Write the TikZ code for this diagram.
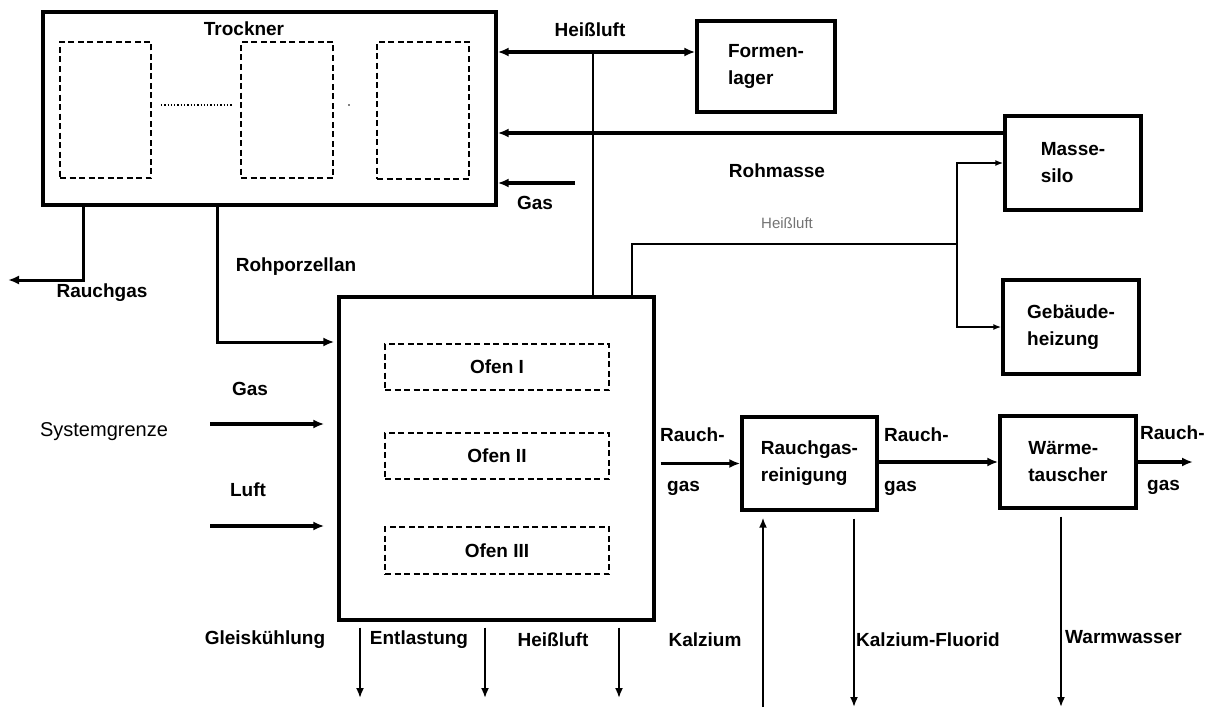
\documentclass[tikz,border=0pt]{standalone}
\usepackage{fontspec}
\setmainfont{Liberation Sans}
\usetikzlibrary{arrows.meta, positioning}

\newcommand{\lblfont}{\fontsize{19}{27}\selectfont\bfseries}

\begin{document}
\begin{tikzpicture}[
    x=1pt, y=-1pt,
    unit/.style={draw, line width=3.4pt, align=left, font=\lblfont, inner sep=0pt},
    chamber/.style={draw, line width=1.8pt, dash pattern=on 6pt off 3.5pt, font=\lblfont, inner sep=0pt},
    flow/.style={line width=3.4pt, -{Latex[length=11pt,width=9pt]}},
    pipe/.style={line width=1.8pt, -{Latex[length=10pt,width=8pt]}},
    lbl/.style={font=\lblfont, inner sep=0pt}
]
\useasboundingbox (0,0) rectangle (1217,709);

% Trockner with its chambers
\node (trockner) [unit, minimum width=453pt, minimum height=193pt] at (269.5,108.5) {};
\node (ttitle) [lbl] at (244,29) {Trockner};
\node (kammer1) [chamber, minimum width=91pt, minimum height=136pt] at (105.5,110) {};
\node (kammer2) [chamber, minimum width=92pt, minimum height=136pt] at (287,110) {};
\node (kammer3) [chamber, minimum width=92pt, minimum height=137pt] at (423,110.5) {};
\draw [line width=1.3pt, dotted] ([xshift=9pt,yshift=5pt]kammer1.east) -- ([xshift=-8pt,yshift=5pt]kammer2.west);
\fill (349,105) circle (0.9pt);

% Ofen with the three kilns
\node (ofen) [unit, minimum width=315pt, minimum height=323pt] at (496.5,458.5) {};
\node (ofen1) [chamber, minimum width=224pt, minimum height=46pt] at (497,367) {Ofen I};
\node (ofen2) [chamber, minimum width=224pt, minimum height=46pt] at (497,456) {Ofen II};
\node (ofen3) [chamber, minimum width=224pt, minimum height=47pt] at (497,550.5) {Ofen III};

% Other units
\node (formen) [unit, minimum width=138pt, minimum height=91pt] at (766,66.5) {Formen-\\lager};
\node (masse) [unit, minimum width=136pt, minimum height=94pt] at (1073,163) {Masse-\\silo};
\node (heizung) [unit, minimum width=136pt, minimum height=94pt] at (1071,327) {Gebäude-\\heizung};
\node (reinigung) [unit, minimum width=135pt, minimum height=93pt] at (809.5,463.5) {Rauchgas-\\reinigung};
\node (tauscher) [unit, minimum width=136pt, minimum height=92pt] at (1068,462) {Wärme-\\tauscher};

% Free ends
\coordinate (verzweig) at (593,52);
\coordinate (gasein) at (575,183);
\coordinate (rauchaus) at (8,280);
\coordinate (gasin) at (210,424);
\coordinate (luftin) at (210,526);
\coordinate (verteiler) at (957,244);
\coordinate (rauchende) at (1193,462);
\coordinate (kalzium) at (763,707);
\coordinate (fluorid) at (854,707);
\coordinate (warmwasser) at (1061,707);

% Hot air to Trockner and Formenlager
\draw [flow] (verzweig) -- (trockner.east |- verzweig);
\draw [flow] (verzweig) -- (formen.west |- verzweig);
\draw [line width=1.8pt] (verzweig) -- (verzweig |- ofen.north);

% Rohmasse and gas into Trockner
\draw [flow] (masse.west |- 0,133) -- (trockner.east |- 0,133);
\draw [flow] (gasein) -- (trockner.east |- gasein);

% Trockner outputs
\draw [flow, line width=3pt] (trockner.south -| 83,0) |- (rauchaus);
\draw [flow, line width=3pt, shorten >=3pt] (trockner.south -| 217,0) |- (ofen.west |- 0,342);

% Ofen inputs
\draw [flow, shorten >=13pt] (gasin) -- (ofen.west |- gasin);
\draw [flow, shorten >=13pt] (luftin) -- (ofen.west |- luftin);

% Hot air to Massesilo and Gebaeudeheizung
\draw [line width=1.6pt] (ofen.north -| 632,0) |- (verteiler);
\draw [pipe, -{Latex[length=8pt,width=6pt]}] (verteiler) |- (masse.west);
\draw [pipe, -{Latex[length=8pt,width=6pt]}] (verteiler) |- (heizung.west);

% Flue gas chain
\draw [flow, shorten <=5pt] (ofen.east |- reinigung.west) -- (reinigung.west);
\draw [flow] (reinigung.east |- tauscher.west) -- (tauscher.west);
\draw [flow] (tauscher.east) -- (rauchende);

% Vertical streams
\draw [pipe, shorten >=6pt] (kalzium) -- (kalzium |- reinigung.south);
\draw [pipe, shorten <=7pt] (reinigung.south -| fluorid) -- (fluorid);
\draw [pipe, shorten <=7pt] (tauscher.south -| warmwasser) -- (warmwasser);
\foreach \ax/\name in {360/gleis, 485/entlast, 619/heissab} {
    \coordinate (\name) at (\ax,698);
    \draw [pipe, shorten <=6pt] (ofen.south -| \name) -- (\name);
}

% Labels
\node (lheiss) [lbl] at (590,30) {Heißluft};
\node (lgas1) [lbl] at (535,203) {Gas};
\node (lrohmasse) [lbl] at (777,171) {Rohmasse};
\node (lheiss2) [lbl, font=\fontsize{15}{15}\selectfont, text=black!55] at (787,223) {Heißluft};
\node (lrohpor) [lbl] at (296,267) {Rohporzellan};
\node (lrauch) [lbl] at (102,293) {Rauchgas};
\node (lgas2) [lbl] at (250,389) {Gas};
\node (lsys) [lbl, font=\fontsize{20}{20}\selectfont] at (104,432) {Systemgrenze};
\node (lluft) [lbl] at (248,490) {Luft};
\node (lgleis) [lbl] at (265,640) {Gleiskühlung};
\node (lentl) [lbl] at (419,640) {Entlastung};
\node (lheiss3) [lbl] at (553,640) {Heißluft};
\node (lkalz) [lbl] at (705,640) {Kalzium};
\node (lfluor) [lbl, anchor=west] at (856,640) {Kalzium-Fluorid};
\node (lwarm) [lbl, anchor=west] at (1065,637) {Warmwasser};
\node (lrauch1) [lbl, anchor=west] at (660,435) {Rauch-};
\node (lgas3) [lbl, anchor=west] at (667,488) {gas};
\node (lrauch2) [lbl, anchor=west] at (884,435) {Rauch-};
\node (lgas4) [lbl, anchor=west] at (884,488) {gas};
\node (lrauch3) [lbl, anchor=west] at (1140,433) {Rauch-};
\node (lgas5) [lbl, anchor=west] at (1147,487) {gas};
\end{tikzpicture}
\end{document}
